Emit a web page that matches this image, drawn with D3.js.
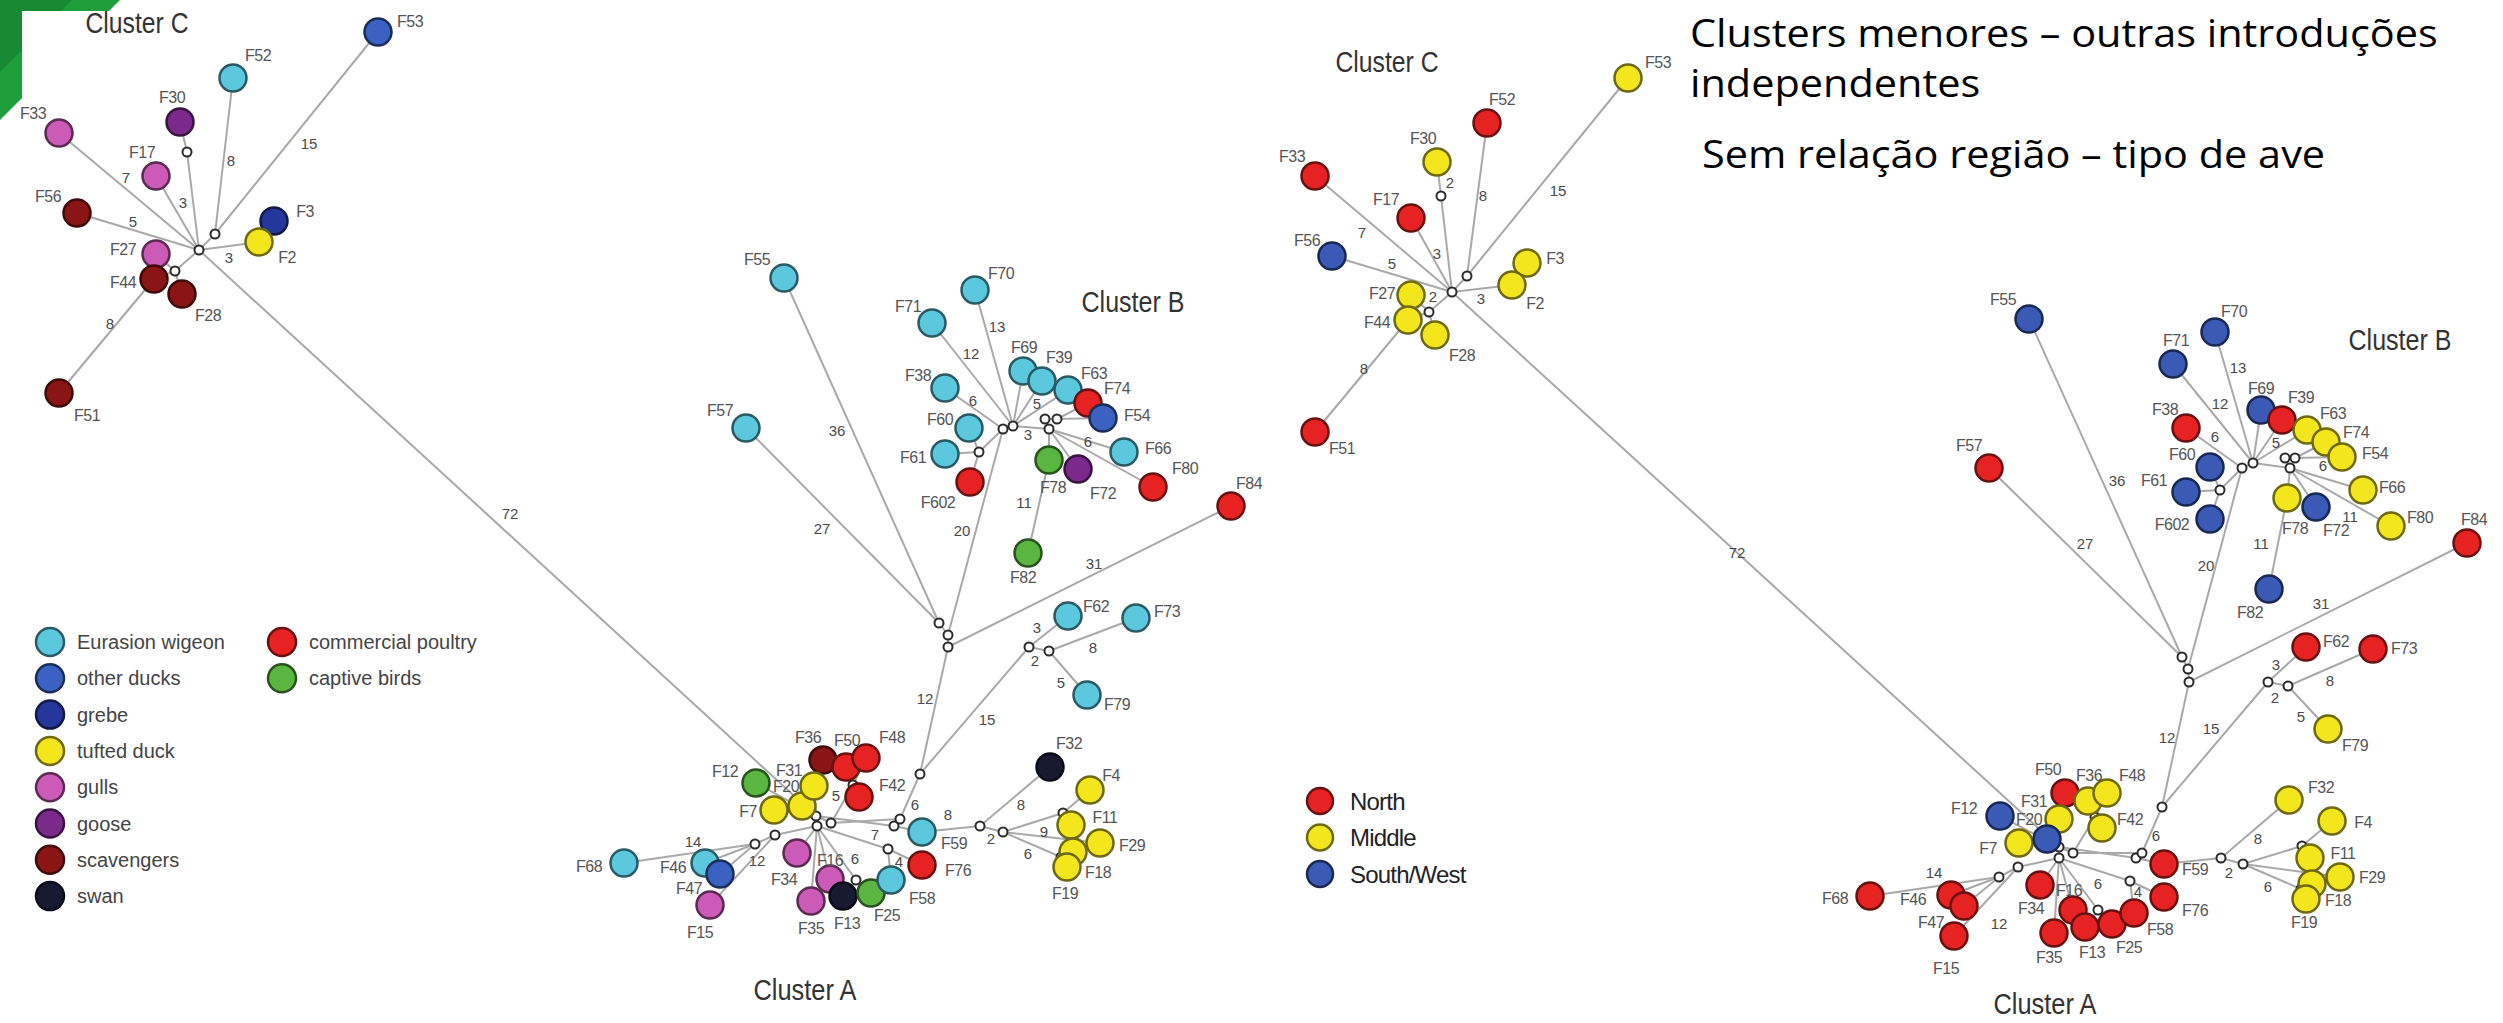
<!DOCTYPE html>
<html><head><meta charset="utf-8">
<script src="https://cdn.jsdelivr.net/npm/d3@7"></script>
<style>html,body{margin:0;padding:0;background:#fff;overflow:hidden}</style>
</head><body>
<svg id="chart" width="2503" height="1023"></svg>
<script>
// ---------- categories ----------
const hostKeys   = ["wig","oth","gre","tuf","gul","goo","sca","swa","pou","cap"];
const hostNames  = ["Eurasion wigeon","other ducks","grebe","tufted duck","gulls","goose","scavengers","swan","commercial poultry","captive birds"];
const hostColors = ["#5cc8de","#3b62c2","#26379c","#f3e61c","#cc5bb8","#7b2a8c","#8a1515","#171a30","#e62222","#5ab640"];
const regionKeys   = ["N","M","S"];
const regionNames  = ["North","Middle","South/West"];
const regionColors = ["#e62222","#f3e61c","#3a5ab6"];

// ---------- tree topology (shared by both layouts) ----------
const treeEdges = [
  ["cH","F33"],["cH","F17"],["cH","F56"],["cH","c1"],["c1","F30"],["cH","c2"],["c2","F52"],["c2","F53"],
  ["cH","F2"],["F2","F3"],["cH","c3"],["c3","F27"],["c3","F44"],["c3","F28"],["F44","F51"],
  ["cH","aH1"],
  ["bH1","bH2"],["bH2","F70"],["bH2","F71"],["bH1","F38"],["bH2","F69"],["bH2","F39"],["bH2","F63"],
  ["bH2","b3"],["b3","b1"],["b1","b2"],["b2","F74"],["b2","F54"],["b3","F66"],["b3","F80"],["b3","F72"],
  ["b3","F78"],["F78","F82"],["bH1","b61"],["b61","F60"],["b61","F61"],["b61","F602"],
  ["bH1","ba2"],["F55","ba1"],["F57","ba1"],["ba1","ba2"],["ba2","ba3"],["ba3","F84"],["ba3","a774"],
  ["p1","F62"],["p1","p2"],["p2","F73"],["p2","F79"],["p1","a774"],
  ["aH1","F31"],["aH1","F20"],["aH1","F7"],["aH1","F12"],["aH1","aH2"],["aH1","aH3"],["aH3","a42"],
  ["a42","F36"],["a42","F50"],["a42","F48"],["a42","F42"],["aH2","a7"],["a7","a46"],["a46","F68"],
  ["a46","F46"],["a46","F47"],["a7","F15"],["aH2","F34"],["aH2","F35"],["aH2","F16"],["aH2","a13"],
  ["a13","F13"],["a13","F25"],["aH2","a58"],["a58","F58"],["a58","F76"],["aH1","a59a"],["aH3","a59b"],
  ["a59a","a59b"],["a59b","a774"],["a59a","F59"],["F59","a32"],["a32","F32"],["a32","a11"],["a11","a4"],
  ["a4","F4"],["a4","F11"],["a11","F29"],["a11","a19"],["a19","F18"],["a19","F19"]
];

// ---------- layout 1: coloured by host ----------
// [isolate, x, y, host, labelX, labelY]
const hostIsolates = [
  ["F53",378,32,"oth",410,21],["F52",233,78,"wig",258,55],["F30",180,122,"goo",172,97],
  ["F33",59,133,"gul",33,113],["F17",156,176,"gul",142,152],["F56",77,213,"sca",48,196],
  ["F3",274,221,"gre",305,211],["F2",259,242,"tuf",287,257],["F27",156,254,"gul",123,249],
  ["F44",154,279,"sca",123,282],["F28",182,294,"sca",208,315],["F51",59,393,"sca",87,415],
  ["F55",784,278,"wig",757,259],["F70",975,290,"wig",1001,273],["F71",932,323,"wig",908,306],
  ["F69",1023,371,"wig",1024,347],["F39",1042,381,"wig",1059,357],["F63",1068,390,"wig",1094,373],
  ["F74",1088,403,"pou",1117,388],["F54",1103,418,"oth",1137,415],["F38",945,388,"wig",918,375],
  ["F60",969,428,"wig",940,419],["F61",945,454,"wig",913,457],["F602",970,482,"pou",938,502],
  ["F78",1049,460,"cap",1053,487],["F72",1078,469,"goo",1103,493],["F66",1124,452,"wig",1158,448],
  ["F80",1153,487,"pou",1185,468],["F84",1231,506,"pou",1249,483],["F82",1028,553,"cap",1023,577],
  ["F57",746,428,"wig",720,410],["F62",1068,616,"wig",1096,606],["F73",1136,618,"wig",1167,611],
  ["F79",1087,695,"wig",1117,704],
  ["F36",823,760,"sca",808,737],["F50",846,767,"pou",847,740],["F48",866,758,"pou",892,737],
  ["F42",859,797,"pou",892,785],["F12",756,783,"cap",725,771],["F7",774,810,"tuf",748,811],
  ["F20",802,806,"tuf",786,786],["F31",814,786,"tuf",789,770],["F68",624,863,"wig",589,866],
  ["F46",705,863,"wig",673,867],["F47",720,874,"oth",689,888],["F15",710,905,"gul",700,932],
  ["F34",797,853,"gul",784,879],["F35",811,901,"gul",811,928],["F16",830,879,"gul",830,860],
  ["F13",843,896,"swa",847,923],["F25",871,893,"cap",887,915],["F58",891,880,"wig",922,898],
  ["F76",922,865,"pou",958,870],["F59",922,832,"wig",954,843],["F32",1050,767,"swa",1069,743],
  ["F4",1090,790,"tuf",1111,775],["F11",1071,825,"tuf",1105,817],["F29",1100,843,"tuf",1132,845],
  ["F18",1073,852,"tuf",1098,872],["F19",1067,867,"tuf",1065,893]
];
// [median vector, x, y]
const hostJunctions = [
  ["cH",199,250],["c1",187,152],["c2",215,234],["c3",175,271],
  ["bH1",1003,429],["bH2",1013,426],["b61",979,452],["b1",1045,419],["b2",1057,419],["b3",1049,429],
  ["ba1",939,623],["ba2",948,635],["ba3",948,647],["p1",1029,647],["p2",1049,651],
  ["aH1",816,816],["aH2",817,826],["aH3",831,823],["a42",853,785],["a7",775,835],["a46",755,844],
  ["a13",856,880],["a58",888,849],["a59a",894,826],["a59b",900,819],["a774",920,774],["a32",980,826],
  ["a11",1003,832],["a4",1063,813],["a19",1061,857]
];
// [from, to, allelic distance, labelX, labelY]
const hostEdgeLabels = [
  ["cH","F33",7,126,177],["cH","F17",3,183,202],["c2","F52",8,231,160],["c2","F53",15,309,143],
  ["cH","F56",5,133,221],["cH","F2",3,229,257],["F44","F51",8,110,323],["cH","aH1",72,510,513],
  ["bH2","F70",13,997,326],["bH2","F71",12,971,353],["bH1","F38",6,973,400],["bH2","F63",5,1037,403],
  ["bH2","b3",3,1028,434],["b3","F66",6,1088,441],["F78","F82",11,1024,502],["bH1","ba2",20,962,530],
  ["F55","ba1",36,837,430],["F57","ba1",27,822,528],["ba3","F84",31,1094,563],["p1","F62",3,1037,627],
  ["p1","p2",2,1035,660],["p2","F73",8,1093,647],["p2","F79",5,1061,682],["ba3","a774",12,925,698],
  ["p1","a774",15,987,719],
  ["aH3","a42",5,836,795],["a59b","a774",6,915,804],["F59","a32",8,948,814],["a32","F32",8,1021,804],
  ["a32","a11",2,991,838],["a11","F29",9,1044,831],["a11","a19",6,1028,853],["a46","F68",14,693,841],
  ["a7","F15",12,757,860],["aH2","a58",7,875,834],["aH2","a13",6,855,858],["a58","F58",4,899,861]
];
const hostClusterTitles = [["Cluster C",137,23],["Cluster B",1133,302],["Cluster A",805,990]];

// ---------- layout 2: coloured by region ----------
const regionIsolates = [
  ["F53",378,78,"M",408,62],["F52",237,123,"N",252,99],["F30",187,162,"M",173,138],
  ["F33",65,176,"N",42,156],["F17",161,218,"N",136,199],["F56",82,256,"S",57,240],
  ["F3",277,263,"M",305,258],["F2",262,285,"M",285,303],["F27",161,295,"M",132,293],
  ["F44",158,320,"M",127,322],["F28",185,335,"M",212,355],["F51",65,432,"N",92,448],
  ["F55",779,319,"S",753,299],["F70",965,332,"S",984,311],["F71",923,364,"S",926,340],
  ["F69",1011,410,"S",1011,388],["F39",1032,420,"N",1051,397],["F63",1057,430,"M",1083,413],
  ["F74",1076,442,"M",1106,432],["F54",1092,457,"M",1125,453],["F38",936,428,"N",915,409],
  ["F60",960,467,"S",932,454],["F61",936,492,"S",904,480],["F602",960,519,"S",922,524],
  ["F78",1037,498,"M",1045,528],["F72",1066,507,"S",1086,530],["F66",1113,490,"M",1142,487],
  ["F80",1141,526,"M",1170,517],["F84",1217,543,"N",1224,519],["F82",1019,589,"S",1000,612],
  ["F57",739,468,"N",719,445],["F62",1056,647,"N",1086,641],["F73",1123,649,"N",1154,648],
  ["F79",1078,729,"M",1105,745],
  ["F50",815,793,"N",798,769],["F36",838,801,"M",839,775],["F48",857,793,"M",882,775],
  ["F42",852,828,"M",880,819],["F12",750,816,"S",714,808],["F7",769,843,"M",738,848],
  ["F31",809,819,"M",784,801],["F20",797,839,"S",779,819],["F68",620,896,"N",585,898],
  ["F46",701,895,"N",663,899],["F47",714,906,"N",681,922],["F15",704,936,"N",696,968],
  ["F34",790,885,"N",781,908],["F35",804,933,"N",799,957],["F16",823,910,"N",819,890],
  ["F13",835,927,"N",842,952],["F25",862,924,"N",879,947],["F58",884,913,"N",910,929],
  ["F76",914,897,"N",945,910],["F59",914,864,"N",945,869],["F32",1039,800,"M",1071,787],
  ["F4",1082,821,"M",1113,822],["F11",1060,858,"M",1093,853],["F29",1090,877,"M",1122,877],
  ["F18",1062,884,"M",1088,900],["F19",1056,899,"M",1054,922]
];
const regionJunctions = [
  ["cH",202,292],["c1",191,196],["c2",217,276],["c3",179,312],
  ["bH1",992,468],["bH2",1003,463],["b61",970,490],["b1",1035,458],["b2",1045,458],["b3",1040,468],
  ["ba1",932,657],["ba2",938,669],["ba3",939,682],["p1",1018,682],["p2",1038,686],
  ["aH1",809,847],["aH2",809,858],["aH3",823,853],["a42",845,817],["a7",768,867],["a46",749,877],
  ["a13",848,910],["a58",880,881],["a59a",886,858],["a59b",892,853],["a774",912,807],["a32",971,858],
  ["a11",993,864],["a4",1052,846],["a19",1051,889]
];
const regionEdgeLabels = [
  ["cH","F33",7,112,232],["cH","F17",3,187,253],["c2","F52",8,233,195],["c2","F53",15,308,190],
  ["cH","F56",5,142,263],["cH","F2",3,231,298],["c3","F44",2,183,296],["F44","F51",8,114,368],
  ["c1","F30",2,200,182],["cH","aH1",72,487,552],
  ["bH2","F70",13,988,367],["bH2","F71",12,970,403],["bH1","F38",6,965,436],["bH2","F63",5,1026,442],
  ["b3","F66",6,1073,465],["b3","F80",11,1100,516],["F78","F82",11,1011,543],["bH1","ba2",20,956,565],
  ["F55","ba1",36,867,480],["F57","ba1",27,835,543],["ba3","F84",31,1071,603],["p1","F62",3,1026,664],
  ["p1","p2",2,1025,697],["p2","F73",8,1080,680],["p2","F79",5,1051,716],["ba3","a774",12,917,737],
  ["p1","a774",15,961,728],
  ["a59b","a774",6,906,835],["a32","F32",8,1008,838],["a32","a11",2,979,872],["a11","a19",6,1018,886],
  ["a46","F68",14,684,872],["a7","F15",12,749,923],["aH2","a13",6,848,883],["a58","F58",4,888,891]
];
const regionClusterTitles = [["Cluster C",137,62],["Cluster B",1150,340],["Cluster A",795,1004]];

// ---------- slide notes ----------
const noteLines = ["Clusters menores – outras introduções","independentes","Sem relação região – tipo de ave"];

// ---------- drawing ----------
const svg = d3.select("#chart");
const W = 2503, H = 1023;

// slide corner accent
svg.append("polygon").attr("points","0,0 120,0 0,120").attr("fill","#1f9e3c");
svg.append("polygon").attr("points","0,0 72,0 0,72").attr("fill","#168a32");
svg.append("rect").attr("x",22).attr("y",11).attr("width",1268).attr("height",H-11).attr("fill","#fff");

const hostColor = d3.scaleOrdinal().domain(hostKeys).range(hostColors);
const regionColor = d3.scaleOrdinal().domain(regionKeys).range(regionColors);

const panels = [
  {x0:0, isolates:hostIsolates, junctions:hostJunctions, edgeLabels:hostEdgeLabels,
   titles:hostClusterTitles, color:hostColor},
  {x0:1250, isolates:regionIsolates, junctions:regionJunctions, edgeLabels:regionEdgeLabels,
   titles:regionClusterTitles, color:regionColor}
];

panels.forEach(p => {
  const x = d3.scaleLinear().domain([0,1250]).range([p.x0, p.x0+1250]);
  const y = d3.scaleLinear().domain([0,H]).range([0,H]);
  const pos = new Map();
  p.isolates.forEach(d => pos.set(d[0], [d[1], d[2]]));
  p.junctions.forEach(d => pos.set(d[0], [d[1], d[2]]));
  const g = svg.append("g");

  g.append("g").selectAll("line").data(treeEdges).join("line")
    .attr("x1", d => x(pos.get(d[0])[0])).attr("y1", d => y(pos.get(d[0])[1]))
    .attr("x2", d => x(pos.get(d[1])[0])).attr("y2", d => y(pos.get(d[1])[1]))
    .attr("stroke","#a9a9a9").attr("stroke-width",2);

  g.append("g").selectAll("text").data(p.edgeLabels).join("text")
    .attr("x", d => x(d[3])).attr("y", d => y(d[4]))
    .attr("text-anchor","middle").attr("dominant-baseline","central")
    .attr("font-family","Liberation Sans, Arial, sans-serif").attr("font-size",15)
    .attr("fill","#4a4a4a").text(d => d[2]);

  g.append("g").selectAll("circle").data(p.junctions).join("circle")
    .attr("cx", d => x(d[1])).attr("cy", d => y(d[2])).attr("r",4.5)
    .attr("fill","#fff").attr("stroke","#2a2a2a").attr("stroke-width",2);

  g.append("g").selectAll("circle").data(p.isolates).join("circle")
    .attr("cx", d => x(d[1])).attr("cy", d => y(d[2])).attr("r",13.5)
    .attr("fill", d => p.color(d[3]))
    .attr("stroke", d => d3.color(p.color(d[3])).darker(2.2))
    .attr("stroke-width",2.5);

  g.append("g").selectAll("text").data(p.isolates).join("text")
    .attr("x", d => x(d[4])).attr("y", d => y(d[5]))
    .attr("text-anchor","middle").attr("dominant-baseline","central")
    .attr("font-family","Liberation Sans, Arial, sans-serif").attr("font-size",16)
    .attr("letter-spacing",-0.5).attr("fill","#555").text(d => d[0]);

  g.append("g").selectAll("text").data(p.titles).join("text")
    .attr("x", d => x(d[1])).attr("y", d => y(d[2]))
    .attr("text-anchor","middle").attr("dominant-baseline","central")
    .attr("font-family","Liberation Sans, Arial, sans-serif").attr("font-size",29)
    .attr("textLength",103).attr("lengthAdjust","spacingAndGlyphs")
    .attr("fill","#333").text(d => d[0]);
});

// host legend (two columns)
const hostLegend = svg.append("g").attr("font-family","Liberation Sans, Arial, sans-serif");
const legendItems = hostNames.map((n,i) => ({name:n, key:hostKeys[i], col: i < 8 ? 0 : 1, row: i < 8 ? i : i-8}));
const lg = hostLegend.selectAll("g").data(legendItems).join("g")
  .attr("transform", d => `translate(${50 + d.col*232},${642 + d.row*36.3})`);
lg.append("circle").attr("r",14).attr("fill", d => hostColor(d.key))
  .attr("stroke", d => d3.color(hostColor(d.key)).darker(2.2)).attr("stroke-width",2.5);
lg.append("text").attr("x",27).attr("dominant-baseline","central")
  .attr("font-size",20).attr("fill","#444").text(d => d.name);

// region legend
const regionLegend = svg.append("g").attr("font-family","Liberation Sans, Arial, sans-serif");
const rg = regionLegend.selectAll("g").data(regionKeys).join("g")
  .attr("transform", (d,i) => `translate(1320,${801 + i*36.5})`);
rg.append("circle").attr("r",13).attr("fill", d => regionColor(d))
  .attr("stroke", d => d3.color(regionColor(d)).darker(2.2)).attr("stroke-width",2.5);
rg.append("text").attr("x",30).attr("dominant-baseline","central")
  .attr("font-size",24).attr("letter-spacing",-0.8).attr("fill","#222")
  .text((d,i) => regionNames[i]);

// slide notes
const notePos = [[1690,47],[1690,97],[1702,168]];
const notes = svg.append("g").attr("font-family","Open Sans, Noto Sans, sans-serif")
  .attr("font-size",39).attr("fill","#000");
const noteText = notes.selectAll("text").data(noteLines).join("text").text(d => d);
const natural = noteText.node().getComputedTextLength();
const k = 748 / natural;
noteText.attr("transform", (d,i) => `translate(${notePos[i][0]},${notePos[i][1]}) scale(${k},1)`);
</script>
</body></html>
